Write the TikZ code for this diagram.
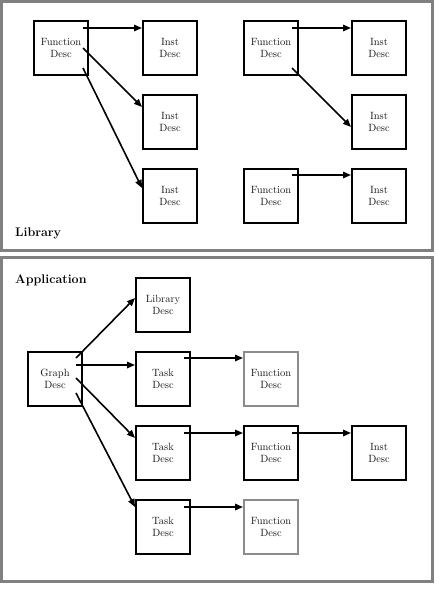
\documentclass[tikz,border=0pt]{standalone}
\usetikzlibrary{arrows.meta,calc}
\begin{document}
\begin{tikzpicture}[x=1pt,y=-1pt,
  frame/.style={draw=black!50,line width=3pt},
  descbox/.style={draw=black,line width=2pt,minimum width=54pt,minimum height=54pt,
     inner sep=0pt,align=center,font=\fontsize{10.5}{12}\selectfont,text=black!90},
  greybox/.style={descbox,draw=black!45},
  conn/.style={line width=1.6pt,-{Triangle[length=8pt,width=6.5pt]}},
  lbl/.style={font=\bfseries\fontsize{12.5}{14}\selectfont,anchor=base west,inner sep=0pt}]
\useasboundingbox (0,0) rectangle (439,589);
\fill[white] (0,0) rectangle (439,589);
% frames
\draw[frame] (1.5,1.5) rectangle (432.5,250.5);
\draw[frame] (1.5,257.5) rectangle (432.5,581.5);
% labels
\node[lbl] (lib) at (15,236) {Library};
\node[lbl] (app) at (15,283) {Application};
% top panel
\node[descbox] (A) at (61,48) {Function\\Desc};
\node[descbox] (I1) at (170,48) {Inst\\Desc};
\node[descbox] (I2) at (170,122) {Inst\\Desc};
\node[descbox] (I3) at (170,196) {Inst\\Desc};
\node[descbox] (B) at (271,48) {Function\\Desc};
\node[descbox] (J1) at (379,48) {Inst\\Desc};
\node[descbox] (J2) at (379,122) {Inst\\Desc};
\node[descbox] (C) at (271,196) {Function\\Desc};
\node[descbox] (J3) at (379,196) {Inst\\Desc};
\draw[conn] ([xshift=-6pt,yshift=20pt]A.east) -- ([yshift=20pt]I1.west);
\draw[conn] ([xshift=-6pt]A.east) -- ([yshift=15pt]I2.west);
\draw[conn] ([xshift=-6pt,yshift=-20pt]A.east) -- ([yshift=8pt]I3.west);
\draw[conn] ([xshift=-7pt,yshift=20pt]B.east) -- ([yshift=20pt]J1.west);
\draw[conn] ([xshift=-7pt,yshift=-20pt]B.east) -- ([yshift=-5pt]J2.west);
\draw[conn] ([xshift=-7pt,yshift=21pt]C.east) -- ([yshift=21pt]J3.west);
% bottom panel
\node[descbox] (L) at (163,305) {Library\\Desc};
\node[descbox] (G) at (55,379) {Graph\\Desc};
\node[descbox] (T1) at (163,379) {Task\\Desc};
\node[descbox] (T2) at (163,453) {Task\\Desc};
\node[descbox] (T3) at (163,527) {Task\\Desc};
\node[greybox] (F1) at (271,379) {Function\\Desc};
\node[descbox] (F2) at (271,453) {Function\\Desc};
\node[descbox] (K) at (379,453) {Inst\\Desc};
\node[greybox] (F3) at (271,527) {Function\\Desc};
\draw[conn] ([xshift=-7pt,yshift=21pt]G.east) -- ([yshift=7pt]L.west);
\draw[conn] ([xshift=-7pt,yshift=14pt]G.east) -- ([yshift=14pt]T1.west);
\draw[conn] ([xshift=-7pt,yshift=1pt]G.east) -- ([yshift=15pt]T2.west);
\draw[conn] ([xshift=-7pt,yshift=-14pt]G.east) -- ([yshift=20pt]T3.west);
\draw[conn] ([xshift=-7pt,yshift=21pt]T1.east) -- ([yshift=21pt]F1.west);
\draw[conn] ([xshift=-7pt,yshift=20pt]T2.east) -- ([yshift=20pt]F2.west);
\draw[conn] ([xshift=-7pt,yshift=20pt]F2.east) -- ([yshift=20pt]K.west);
\draw[conn] ([xshift=-7pt,yshift=20pt]T3.east) -- ([yshift=20pt]F3.west);
\end{tikzpicture}
\end{document}
